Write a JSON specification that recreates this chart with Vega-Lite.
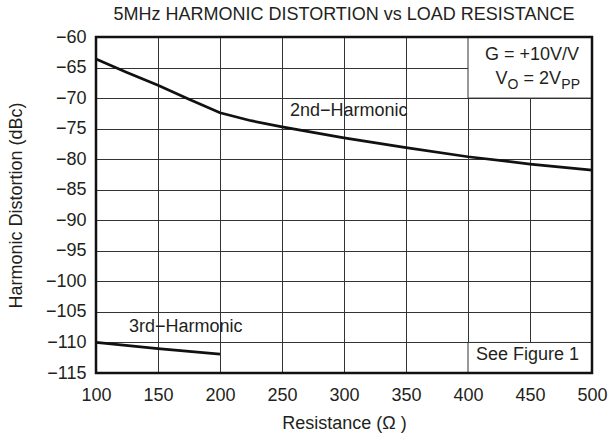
{
  "$schema": "https://vega.github.io/schema/vega-lite/v6.json",
  "autosize": "none",
  "width": 496,
  "height": 336,
  "padding": {"left": 96, "top": 37, "right": 16, "bottom": 67},
  "background": "white",
  "title": {"text": "5MHz HARMONIC DISTORTION vs LOAD RESISTANCE", "fontSize": 18, "fontWeight": "normal", "font": "Liberation Sans", "color": "#231f20", "anchor": "middle", "offset": 4},
  "config": {
    "view": {"stroke": null},
    "axis": {"labelFont": "Liberation Sans", "titleFont": "Liberation Sans", "labelColor": "#231f20", "titleColor": "#231f20", "labelFontSize": 18, "titleFontSize": 18, "titleFontWeight": "normal", "gridColor": "#333333", "gridOpacity": 1, "gridWidth": 1, "domain": false, "ticks": false, "labelOverlap": false, "labelBound": false, "labelFlush": false},
    "text": {"font": "Liberation Sans", "color": "#231f20"}
  },
  "datasets": {
    "curves": [
      {"series": "2nd", "r": 100, "dbc": -63.6},
      {"series": "2nd", "r": 125, "dbc": -65.8},
      {"series": "2nd", "r": 150, "dbc": -67.9},
      {"series": "2nd", "r": 175, "dbc": -70.2},
      {"series": "2nd", "r": 200, "dbc": -72.4},
      {"series": "2nd", "r": 225, "dbc": -73.7},
      {"series": "2nd", "r": 250, "dbc": -74.7},
      {"series": "2nd", "r": 300, "dbc": -76.5},
      {"series": "2nd", "r": 350, "dbc": -78.1},
      {"series": "2nd", "r": 400, "dbc": -79.6},
      {"series": "2nd", "r": 450, "dbc": -80.8},
      {"series": "2nd", "r": 500, "dbc": -81.8},
      {"series": "3rd", "r": 100, "dbc": -110.0},
      {"series": "3rd", "r": 150, "dbc": -111.0},
      {"series": "3rd", "r": 200, "dbc": -111.9}
    ],
    "boxes": [
      {"r": 400, "r2": 500, "dbc": -60, "dbc2": -70},
      {"r": 400, "r2": 500, "dbc": -110, "dbc2": -115}
    ],
    "frame": [
      {"r": 100, "r2": 500, "dbc": -60, "dbc2": -115}
    ]
  },
  "layer": [
    {
      "data": {"name": "curves"},
      "mark": {"type": "line", "color": "#111111", "strokeWidth": 2.7},
      "encoding": {
        "x": {"field": "r", "type": "quantitative", "scale": {"domain": [100, 500], "nice": false, "zero": false},
              "axis": {"title": "Resistance (Ω )", "values": [100,150,200,250,300,350,400,450,500], "tickCount": 20, "grid": true, "labelPadding": 13, "titlePadding": 10, "zindex": 0, "labelFlush": false, "labelOverlap": false}},
        "y": {"field": "dbc", "type": "quantitative", "scale": {"domain": [-115, -60], "nice": false, "zero": false},
              "axis": {"title": "Harmonic Distortion (dBc)", "values": [-60,-65,-70,-75,-80,-85,-90,-95,-100,-105,-110,-115], "tickCount": 20, "grid": true, "labelPadding": 10, "titlePadding": 20, "zindex": 0, "labelFlush": false, "labelOverlap": false}},
        "detail": {"field": "series", "type": "nominal"}
      }
    },
    {
      "data": {"name": "boxes"},
      "mark": {"type": "rect", "fill": "white", "stroke": "#333333", "strokeWidth": 1},
      "encoding": {
        "x": {"field": "r", "type": "quantitative"},
        "x2": {"field": "r2"},
        "y": {"field": "dbc", "type": "quantitative"},
        "y2": {"field": "dbc2"}
      }
    },
    {
      "data": {"values": [{"label": "2nd−Harmonic", "r": 256.5, "dbc": -72.1}, {"label": "3rd−Harmonic", "r": 126.6, "dbc": -107.55}]},
      "mark": {"type": "text", "fontSize": 18, "align": "left", "baseline": "middle"},
      "encoding": {
        "x": {"field": "r", "type": "quantitative"},
        "y": {"field": "dbc", "type": "quantitative"},
        "text": {"field": "label"}
      }
    },
    {
      "data": {"values": [{"label": "G = +10V/V", "r": 500, "dbc": -62.9}, {"label": "See Figure 1", "r": 500, "dbc": -112.05}]},
      "mark": {"type": "text", "fontSize": 18, "align": "right", "baseline": "middle", "dx": -13},
      "encoding": {
        "x": {"field": "r", "type": "quantitative"},
        "y": {"field": "dbc", "type": "quantitative"},
        "text": {"field": "label"}
      }
    },
    {
      "data": {"values": [{"label": "PP", "r": 500, "dbc": -66.9}]},
      "mark": {"type": "text", "fontSize": 14, "align": "right", "baseline": "middle", "dx": -12, "dy": 6},
      "encoding": {
        "x": {"field": "r", "type": "quantitative"},
        "y": {"field": "dbc", "type": "quantitative"},
        "text": {"field": "label"}
      }
    },
    {
      "data": {"values": [{"label": "= 2V", "r": 500, "dbc": -66.9}]},
      "mark": {"type": "text", "fontSize": 18, "align": "right", "baseline": "middle", "dx": -31},
      "encoding": {
        "x": {"field": "r", "type": "quantitative"},
        "y": {"field": "dbc", "type": "quantitative"},
        "text": {"field": "label"}
      }
    },
    {
      "data": {"values": [{"label": "O", "r": 500, "dbc": -66.9}]},
      "mark": {"type": "text", "fontSize": 14, "align": "right", "baseline": "middle", "dx": -73.5, "dy": 6},
      "encoding": {
        "x": {"field": "r", "type": "quantitative"},
        "y": {"field": "dbc", "type": "quantitative"},
        "text": {"field": "label"}
      }
    },
    {
      "data": {"values": [{"label": "V", "r": 500, "dbc": -66.9}]},
      "mark": {"type": "text", "fontSize": 18, "align": "right", "baseline": "middle", "dx": -84.4},
      "encoding": {
        "x": {"field": "r", "type": "quantitative"},
        "y": {"field": "dbc", "type": "quantitative"},
        "text": {"field": "label"}
      }
    },
    {
      "data": {"name": "frame"},
      "mark": {"type": "rect", "fill": null, "fillOpacity": 0, "stroke": "#111111", "strokeWidth": 2.5},
      "encoding": {
        "x": {"field": "r", "type": "quantitative"},
        "x2": {"field": "r2"},
        "y": {"field": "dbc", "type": "quantitative"},
        "y2": {"field": "dbc2"}
      }
    }
  ]
}
